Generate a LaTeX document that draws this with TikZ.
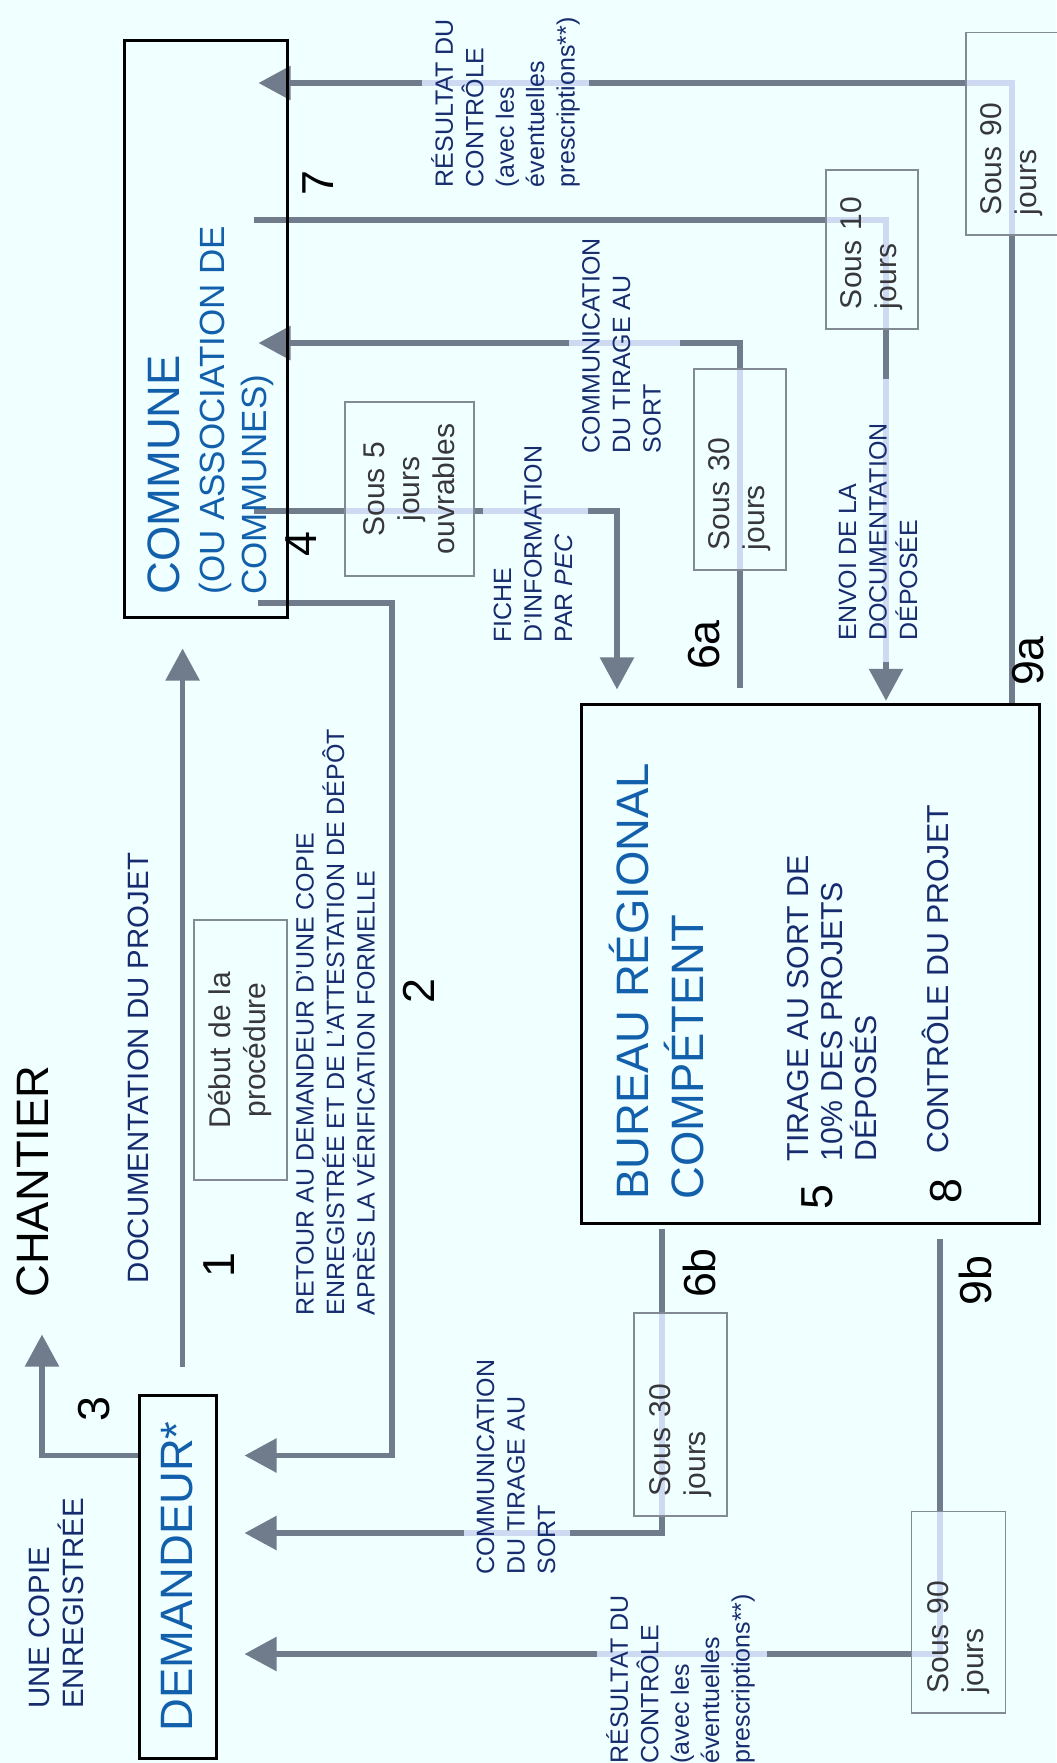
\documentclass[tikz,border=0pt]{standalone}
\usepackage{fontspec}
\setmainfont{Liberation Sans}
\usepackage{tikz}
\usetikzlibrary{arrows.meta}

\definecolor{bgcol}{RGB}{240,255,255}
\definecolor{flowgray}{RGB}{112,124,140}
\definecolor{palecol}{RGB}{205,218,242}
\definecolor{titleblue}{RGB}{18,96,172}
\definecolor{labblue}{RGB}{22,44,110}
\definecolor{boxgray}{RGB}{130,138,148}
\definecolor{boxtext}{RGB}{55,55,60}

\pgfdeclarelayer{back}
\pgfdeclarelayer{lines}
\pgfsetlayers{back,lines,main}

\begin{document}
\begin{tikzpicture}[x=0.5pt,y=-0.5pt]
				\tikzstyle{bigbox}=[draw=black,line width=1.5pt,inner sep=0pt]
				\tikzstyle{timebox}=[draw=boxgray,line width=0.75pt,rotate=90,inner xsep=10pt,inner ysep=0pt,align=left,text=boxtext,font=\fontsize{15}{17.5}\selectfont]
				\tikzstyle{title}=[rotate=90,inner sep=0pt,text=titleblue,font=\fontsize{22.7}{27.3}\selectfont]
				\tikzstyle{lab}=[rotate=90,anchor=west,inner sep=0pt,align=left,text=labblue,font=\fontsize{12.5}{15.2}\selectfont]
				\tikzstyle{biglab}=[lab,font=\fontsize{14.7}{17.25}\selectfont]
				\tikzstyle{inlab}=[lab,font=\fontsize{15.15}{17}\selectfont]
				\tikzstyle{num}=[rotate=90,inner sep=0pt,font=\fontsize{22.4}{27}\selectfont]
				\tikzstyle{flow}=[line width=2.8pt,draw=flowgray]
				\tikzstyle{pale}=[line width=2.8pt,draw=palecol]
				\tikzstyle{flowarrow}=[flow,-{Triangle[length=16pt,width=16.5pt]}]
				
				\begin{pgfonlayer}{back}
				\fill[bgcol] (0,0) rectangle (1056,1763);
				\end{pgfonlayer}
				\useasboundingbox (0,0) rectangle (1056,1763);
				
				\node[bigbox,minimum width=81.5pt,minimum height=288.5pt](commune) at (205.5,328.5){};
				\node[bigbox,minimum width=38.5pt,minimum height=181.5pt](demandeur) at (177.5,1576.5){};
				\node[bigbox,minimum width=229pt,minimum height=259.65pt](bureau) at (810.5,964){};
				
				\node[title,anchor=west,align=left,font=\fontsize{17.5}{21}\selectfont](communetext) at (210.7,595){{\fontsize{22.7}{27}\selectfont COMMUNE}\\[1.5pt](OU ASSOCIATION DE\\COMMUNES)};
				\node[title](demandeurtext) at (demandeur){DEMANDEUR*};
				\node[title,anchor=west,align=left](bureautext) at (656.6,1200){BUREAU RÉGIONAL\\COMPÉTENT};
				\node[title,anchor=west,text=black](chantier) at (32.5,1298){CHANTIER};
				
				\node[inlab](tirage) at (832,1161.7){TIRAGE AU SORT DE\\10\% DES PROJETS\\DÉPOSÉS};
				\node[inlab](controle) at (935,1154){CONTRÔLE DU PROJET};
				
				\node[timebox,align=center,text width=110pt,minimum height=46.5pt](debut) at (240.5,1050){Début de la\\procédure};
				\node[timebox,align=center,text width=67pt,minimum height=64.5pt](s5) at (409.5,489){Sous 5\\jours\\ouvrables};
				\node[timebox,text width=59.5pt,minimum height=46pt](s10) at (872,249.5){Sous 10\\jours};
				\node[timebox,text width=80.5pt,minimum height=46pt](s30a) at (740,469.5){Sous 30\\jours};
				\node[timebox,text width=81.25pt,minimum height=46pt](s90a) at (1012,133.75){Sous 90\\jours};
				\node[timebox,text width=81.5pt,minimum height=46.5pt](s30b) at (680.5,1414.5){Sous 30\\jours};
				\node[timebox,text width=80.75pt,minimum height=47pt](s90b) at (958.5,1612.25){Sous 90\\jours};
				
				\node[biglab](copie) at (56.3,1709){UNE COPIE\\ENREGISTRÉE};
				\node[biglab](docu) at (138,1283.5){DOCUMENTATION DU PROJET};
				\node[lab](retour) at (335.5,1315.6){RETOUR AU DEMANDEUR D'UNE COPIE\\ENREGISTRÉE ET DE L'ATTESTATION DE DÉPÔT\\APRÈS LA VÉRIFICATION FORMELLE};
				\node[lab](fiche) at (533,643){FICHE\\D'INFORMATION\\PAR \textit{PEC}};
				\node[lab](comm1) at (621.5,453.5){COMMUNICATION\\DU TIRAGE AU\\SORT};
				\node[lab](envoi) at (878,641){ENVOI DE LA\\DOCUMENTATION\\DÉPOSÉE};
				\node[lab](res1) at (505.5,187.5){RÉSULTAT DU\\CONTRÔLE\\(avec les\\éventuelles\\prescriptions**)};
				\node[lab](comm2) at (516,1575){COMMUNICATION\\DU TIRAGE AU\\SORT};
				\node[lab](res2) at (680.5,1764){RÉSULTAT DU\\CONTRÔLE\\(avec les\\éventuelles\\prescriptions**)};
				
				\node[num](n1) at (219,1265.5){1};
				\node[num](n2) at (419,991.5){2};
				\node[num](n3) at (94,1409){3};
				\node[num](n4) at (301,544){4};
				\node[num](n5) at (817.5,1196.7){5};
				\node[num](n6a) at (704,645){6a};
				\node[num](n6b) at (699,1273){6b};
				\node[num](n7) at (318.5,183.5){7};
				\node[num](n8) at (946.5,1191.5){8};
				\node[num](n9a) at (1028,661){9a};
				\node[num](n9b) at (975,1280.5){9b};
				
				\coordinate (k1) at (182.6,1367);
				\coordinate (k2s) at (257.6,603);
				\coordinate (k2a) at (392,603);
				\coordinate (k2b) at (392,1455.5);
				\coordinate (k3) at (42,1455.5);
				\coordinate (k4s) at (253.5,511);
				\coordinate (k4) at (617,511);
				\coordinate (k6a) at (740,343);
				\coordinate (k7s) at (253.5,220);
				\coordinate (k7) at (886,220);
				\coordinate (k9a) at (1012,83);
				\coordinate (k6b) at (662,1533);
				\coordinate (k9b) at (940,1654);
				
				\begin{pgfonlayer}{lines}
				\draw[flowarrow,shorten >=15pt] (k1) -- (k1 |- commune.south);
				\draw[flowarrow,shorten >=13.5pt] (k2s) -- (k2a) -- (k2b) -- (k2b -| demandeur.east);
				\draw[flowarrow,shorten >=18.25pt] (demandeur.west |- k3) -- (k3) -- (k3 |- chantier.west);
				\draw[flowarrow,shorten >=6.7pt] (k4s) -- (k4) -- (k4 |- bureau.north);
				\draw[flowarrow,shorten <=7.2pt,shorten >=-15pt] (k6a |- bureau.north) -- (k6a) -- (k6a -| commune.east);
				\draw[flowarrow,shorten >=1pt] (k7s) -- (k7) -- (k7 |- bureau.north);
				\draw[flowarrow,shorten >=-15pt] (k9a |- bureau.north) -- (k9a) -- (k9a -| commune.east);
				\draw[flowarrow,shorten <=2pt,shorten >=13.5pt] (k6b |- bureau.south) -- (k6b) -- (k6b -| demandeur.east);
				\draw[flowarrow,shorten <=7pt,shorten >=13.5pt] (k9b |- bureau.south) -- (k9b) -- (k9b -| demandeur.east);
				
				\draw[pale] (k9a |- s90a.west) -- (k9a) -- (k9a -| s90a.north);
				\draw[pale,shorten <=-4.5pt,shorten >=-4.5pt] (k9a -| res1.north) -- (k9a -| res1.south);
				\draw[pale] (k4 -| s5.north) -- (k4 -| s5.south);
				\draw[pale,shorten <=-5pt,shorten >=-7.5pt] (k4 -| fiche.north) -- (k4 -| fiche.south);
				\draw[pale] (k6a |- s30a.east) -- (k6a |- s30a.west);
				\draw[pale,shorten <=-6.5pt,shorten >=-9.5pt] (k6a -| comm1.north) -- (k6a -| comm1.south);
				\draw[pale] (k7 -| s10.north) -- (k7) -- (k7 |- s10.west);
				\draw[pale,shorten <=-22pt,shorten >=-10.5pt] (k7 |- envoi.east) -- (k7 |- envoi.west);
				\draw[pale] (k6b |- s30b.east) -- (k6b |- s30b.west);
				\draw[pale,shorten <=-6pt,shorten >=-7pt] (k6b -| comm2.north) -- (k6b -| comm2.south);
				\draw[pale] (k9b |- s90b.east) -- (k9b) -- (k9b -| s90b.north);
				\draw[pale,shorten <=-4.5pt,shorten >=-6pt] (k9b -| res2.north) -- (k9b -| res2.south);
				\end{pgfonlayer}
\end{tikzpicture}
\end{document}
